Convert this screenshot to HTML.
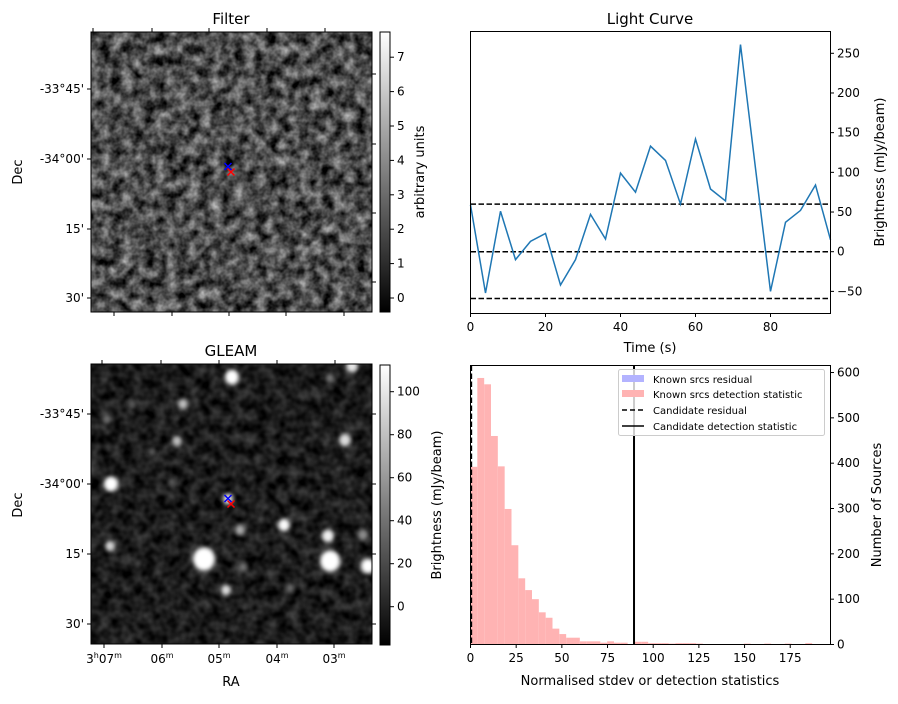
<!DOCTYPE html>
<html><head><meta charset="utf-8"><style>
body{margin:0;background:#fff;font-family:"Liberation Sans","DejaVu Sans",sans-serif}
svg text{font-family:"DejaVu Sans","Liberation Sans",sans-serif;fill:#000}
</style></head><body>
<svg id="fig" width="898" height="699" viewBox="0 0 898 699" xmlns="http://www.w3.org/2000/svg">
<defs>
<filter id="noiseF" x="0" y="0" width="100%" height="100%" color-interpolation-filters="sRGB">
<feTurbulence type="fractalNoise" baseFrequency="0.09" numOctaves="3" seed="4"/>
<feColorMatrix type="matrix" values="1.0 0 0 0 -0.2  1.0 0 0 0 -0.2  1.0 0 0 0 -0.2  0 0 0 0 1"/>
</filter>
<filter id="noiseG" x="0" y="0" width="100%" height="100%" color-interpolation-filters="sRGB">
<feTurbulence type="fractalNoise" baseFrequency="0.09" numOctaves="2" seed="7"/>
<feColorMatrix type="matrix" values="0.4 0 0 0 -0.09  0.4 0 0 0 -0.09  0.4 0 0 0 -0.09  0 0 0 0 1"/>
</filter>
<filter id="blur2"><feGaussianBlur stdDeviation="2"/></filter>
<linearGradient id="cbar" x1="0" y1="1" x2="0" y2="0"><stop offset="0" stop-color="#000"/><stop offset="1" stop-color="#fff"/></linearGradient>
<clipPath id="clipG"><rect x="91" y="364" width="281" height="280"/></clipPath>
</defs>

<text x="231" y="24" font-size="15" text-anchor="middle">Filter</text>
<rect x="91" y="32" width="281" height="280" filter="url(#noiseF)"/>
<g stroke-width="1.5">
<path d="M224.5,163 l7,7 M231.5,163 l-7,7" stroke="#00f"/>
<path d="M227.5,168.5 l7,7 M234.5,168.5 l-7,7" stroke="#f00"/>
</g>
<rect x="91" y="32" width="281" height="280" fill="none" stroke="#000"/>
<g id="filterTicks" stroke="#000"></g>
<text transform="translate(22,172) rotate(-90)" font-size="13" text-anchor="middle">Dec</text>
<rect x="380" y="32" width="10" height="280" fill="url(#cbar)" stroke="#000"/>
<text transform="translate(424,172) rotate(-90)" font-size="13" text-anchor="middle">arbitrary units</text>

<text x="231" y="356" font-size="15" text-anchor="middle">GLEAM</text>
<rect x="91" y="364" width="281" height="280" filter="url(#noiseG)"/>
<g id="sources" clip-path="url(#clipG)" filter="url(#blur2)"></g>
<g stroke-width="1.5">
<path d="M224.5,495 l7,7 M231.5,495 l-7,7" stroke="#00f"/>
<path d="M227.5,500.5 l7,7 M234.5,500.5 l-7,7" stroke="#f00"/>
</g>
<rect x="91" y="364" width="281" height="280" fill="none" stroke="#000"/>
<g id="gleamTicks" stroke="#000"></g>
<text transform="translate(22,505) rotate(-90)" font-size="13" text-anchor="middle">Dec</text>
<text x="231" y="686" font-size="13" text-anchor="middle">RA</text>
<rect x="380" y="365" width="10" height="280" fill="url(#cbar)" stroke="#000"/>
<text transform="translate(441,505) rotate(-90)" font-size="13" text-anchor="middle">Brightness (mJy/beam)</text>

<text x="650" y="24" font-size="15" text-anchor="middle">Light Curve</text>
<g id="lc"></g>
<rect x="470.5" y="31.5" width="360" height="282" fill="none" stroke="#000"/>
<text x="650" y="352" font-size="13" text-anchor="middle">Time (s)</text>
<text transform="translate(884,172) rotate(-90)" font-size="13" text-anchor="middle">Brightness (mJy/beam)</text>

<g id="hist"></g>
<rect x="470.5" y="365.5" width="360" height="279" fill="none" stroke="#000"/>
<text x="650" y="685" font-size="13" text-anchor="middle">Normalised stdev or detection statistics</text>
<text transform="translate(881,505) rotate(-90)" font-size="13" text-anchor="middle">Number of Sources</text>
<g>
<rect x="618.5" y="369.5" width="206" height="66" rx="2" fill="#fff" fill-opacity="0.8" stroke="#ccc"/>
<rect x="622" y="375" width="22" height="7" fill="#b3b3ff"/>
<text x="653" y="383" font-size="10">Known srcs residual</text>
<rect x="622" y="390" width="22" height="7" fill="#ffb3b3"/>
<text x="653" y="398" font-size="10">Known srcs detection statistic</text>
<line x1="622" y1="410" x2="644" y2="410" stroke="#000" stroke-width="1.5" stroke-dasharray="5,3"/>
<text x="653" y="414" font-size="10">Candidate residual</text>
<line x1="622" y1="426" x2="644" y2="426" stroke="#000" stroke-width="1.5"/>
<text x="653" y="430" font-size="10">Candidate detection statistic</text>
</g>
</svg>
<script>
// ---- Light curve data ----
const lcTimes = [0,4,8,12,16,20,24,28,32,36,40,44,48,52,56,60,64,68,72,76,80,84,88,92,96];
const lcValues = [59,-52,51,-10,13,23,-42,-10,47,16,99,75,133,115,60,142,79,64,261,105,-50,37,52,84,15];
const lcThresholds = [60,0,-59];
const lcXTicks = [0,20,40,60,80];
const lcYTicks = [-50,0,50,100,150,200,250];
// ---- Histogram data ----
const histBinWidth = 3.74;
const histCounts = [392,588,574,460,393,299,219,146,120,100,71,59,35,23,15,15,7,7,7,4,7,4,4,0,6,6,3,3,3,2,3,3,3,2,1,1,1,1,1,0,2,0,0,2,0,0,2,0,0,3,0,0];
const candResidual = 0.5;
const candDetection = 89.5;
const histXTicks = [0,25,50,75,100,125,150,175];
const histYTicks = [0,100,200,300,400,500,600];
// ---- Colorbar ticks ----
const filterCbTicks = [0,1,2,3,4,5,6,7];
const gleamCbTicks = [0,20,40,60,80,100];
const decLabels = ["-33°45'","-34°00'","15'","30'"];
const raLabels = ["3h07m","06m","05m","04m","03m"];

const NS="http://www.w3.org/2000/svg";
function mk(tag,attrs,parent,txt){const e=document.createElementNS(NS,tag);for(const k in attrs)e.setAttribute(k,attrs[k]);if(txt!==undefined)e.textContent=txt;parent.appendChild(e);return e;}
const svg=document.getElementById('fig');
const TF=12;

const lcX=t=>470.5+t*(360/96);
const lcY=v=>251.7-v*0.7936;
const lc=document.getElementById('lc');
lcThresholds.forEach((v,i)=>{const l=mk('line',{x1:470.5,x2:830.5,y1:lcY(v),y2:lcY(v),stroke:'#000','stroke-width':1.5,'stroke-dasharray':'5.5,2.5'},lc);

});
const pts=lcTimes.map((t,i)=>lcX(t)+','+lcY(lcValues[i])).join(' ');
const pl=mk('polyline',{points:pts,fill:'none',stroke:'#1f77b4','stroke-width':1.5},lc);


lcXTicks.forEach(t=>{mk('line',{x1:lcX(t),x2:lcX(t),y1:313.5,y2:317,stroke:'#000'},lc);
const tx=mk('text',{x:lcX(t),y:331,'font-size':TF,'text-anchor':'middle'},lc,t);

});
lcYTicks.forEach(v=>{mk('line',{x1:830.5,x2:834,y1:lcY(v),y2:lcY(v),stroke:'#000'},lc);
const tx=mk('text',{x:837,y:lcY(v)+4,'font-size':TF},lc,v<0?'\u2212'+(-v):v);

});

const hX=v=>470.5+v*1.827;
const hY=c=>644.5-c*0.4533;
const h=document.getElementById('hist');
histCounts.forEach((c,i)=>{if(c<=0)return;const x0=hX(i*histBinWidth),x1=hX((i+1)*histBinWidth);
const r=mk('rect',{x:x0,y:hY(c),width:x1-x0,height:644.5-hY(c),fill:'#ffb3b3'},h);

});
const l1=mk('line',{x1:hX(candResidual),x2:hX(candResidual),y1:365.5,y2:644.5,stroke:'#000','stroke-width':1.5,'stroke-dasharray':'5.5,2.5'},h);


const l2=mk('line',{x1:hX(candDetection),x2:hX(candDetection),y1:365.5,y2:644.5,stroke:'#000','stroke-width':2},h);


histXTicks.forEach(t=>{mk('line',{x1:hX(t),x2:hX(t),y1:644.5,y2:648,stroke:'#000'},h);
const tx=mk('text',{x:hX(t),y:662,'font-size':TF,'text-anchor':'middle'},h,t);

});
histYTicks.forEach(v=>{mk('line',{x1:830.5,x2:834,y1:hY(v),y2:hY(v),stroke:'#000'},h);
const tx=mk('text',{x:837,y:hY(v)+4,'font-size':TF},h,v);

});

function imgTicks(g,top,bot,topX,botX,leftY,rightY,showRA){
 topX.forEach(x=>mk('line',{x1:x,x2:x,y1:top,y2:top-4},g));
 botX.forEach(x=>mk('line',{x1:x,x2:x,y1:bot,y2:bot+4},g));
 leftY.forEach((y,i)=>{mk('line',{x1:91,x2:87,y1:y,y2:y},g);
  const tx=mk('text',{x:84,y:y+4,'font-size':TF,'text-anchor':'end',stroke:'none'},g,decLabels[i]);
  
  });
 rightY.forEach(y=>mk('line',{x1:372,x2:376,y1:y,y2:y},g));
 if(showRA){botX.forEach((x,i)=>{const l=raLabels[i];const t=mk('text',{x:x,y:bot+19,'font-size':TF,'text-anchor':'middle',stroke:'none'},g);
  if(i===0){t.innerHTML='3<tspan font-size="8" dy="-5">h</tspan><tspan dy="5">07</tspan><tspan font-size="8" dy="-5">m</tspan>';}
  else{t.innerHTML=l.slice(0,2)+'<tspan font-size="8" dy="-5">m</tspan>';}
  
  });}
}
imgTicks(document.getElementById('filterTicks'),32,312,[93,152,209,267,325],[114,172,229,286,344],[89,159,229,298],[74,144,213,282],false);
imgTicks(document.getElementById('gleamTicks'),364,644,[102,161,219,277,335],[104,162,219,277,334],[414,484,554,624],[414,484,554,624],true);

function cbTicks(ticks,y0,scale){ticks.forEach(v=>{const y=y0-v*scale;mk('line',{x1:390,x2:394,y1:y,y2:y,stroke:'#000'},svg);
 const tx=mk('text',{x:397,y:y+4,'font-size':TF},svg,v);
 
 });}
cbTicks(filterCbTicks,298,34.4);
cbTicks(gleamCbTicks,606.7,2.15);

const srcX=[232,183,177,330,345,107,111,228,284,240,328,110,204,330,368,363,226,243,352,290,172,132,152];
const srcY=[377,404,441,378,440,419,484,499,525,530,536,546,559,561,566,535,590,567,366,588,482,404,452];
const srcR=[7,5,5,4,6,4,7,5,6,5,6,5,11,10,7,5,5,4,6,4,4,4,4];
const srcB=[255,190,190,120,220,110,255,230,250,170,240,210,255,255,255,140,220,120,230,110,90,90,90];
const sg=document.getElementById('sources');
srcX.forEach((x,i)=>{const b=srcB[i];const c=mk('ellipse',{cx:x,cy:srcY[i],rx:srcR[i],ry:srcR[i]*1.08,fill:`rgb(${b},${b},${b})`},sg);
 
 });
</script>
</body></html>
